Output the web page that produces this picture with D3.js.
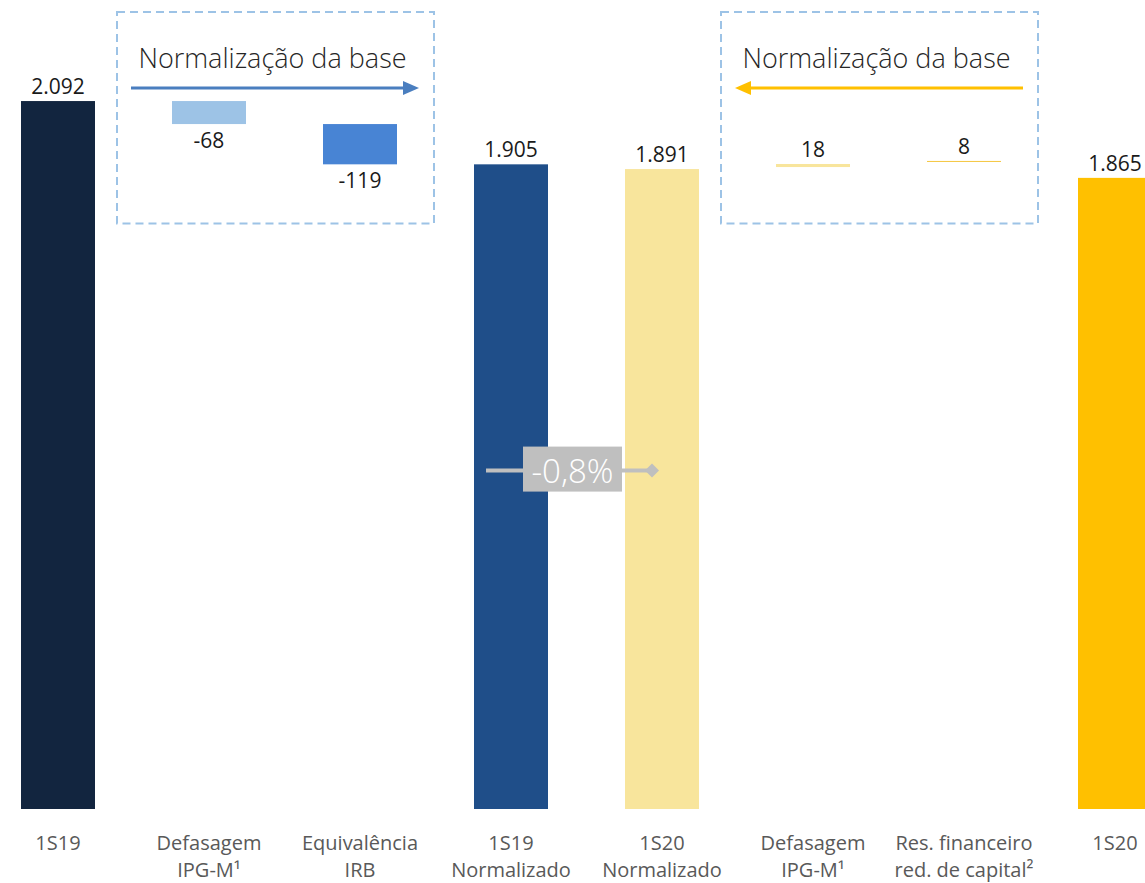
<!DOCTYPE html>
<html>
<head>
<meta charset="utf-8">
<script src="https://cdn.jsdelivr.net/npm/d3@7"></script>
<style>
  body { margin: 0; background: #fff; }
  svg { display: block; font-family: "Open Sans", sans-serif; }
</style>
</head>
<body>
<div id="chart"></div>
<script>
// categorias (linhas do eixo x)
const categories = ["1S19", "Defasagem|IPG-M¹", "Equivalência|IRB", "1S19|Normalizado",
                    "1S20|Normalizado", "Defasagem|IPG-M¹", "Res. financeiro|red. de capital²", "1S20"];
// rótulos de valor
const valueLabels = ["2.092", "-68", "-119", "1.905", "1.891", "18", "8", "1.865"];
// barras: início e fim (flutuantes para os ajustes)
const barLow  = [0, 2024, 1905, 0, 0, 1897, 1912, 0];
const barHigh = [2092, 2092, 2024, 1905, 1891, 1906, 1915, 1865];
const labelBelow = [false, true, true, false, false, false, false, false];
const barColors = ["#12253f", "#9dc3e6", "#4884d4", "#1f4e89", "#f8e59c", "#f8e59c", "#f5c842", "#ffc000"];
const changeLabel = "-0,8%";
const boxTitle = "Normalização da base";

const width = 1145, height = 883;
const svg = d3.select("#chart").append("svg")
    .attr("width", width).attr("height", height);

// escalas
const x = d3.scaleBand()
    .domain(d3.range(categories.length))
    .range([-17.5, 1190.5])
    .paddingInner(0.51)
    .paddingOuter(0.255);

const y = d3.scaleLinear()
    .domain([0, 2200])
    .range([809, 64.5]);

// caixas tracejadas
function drawBox(i0, i1, arrowDir, arrowColor) {
    const x0 = x(i0) - 55, x1 = x(i1) + x.bandwidth() + 37;
    svg.append("rect")
        .attr("x", x0).attr("y", 12)
        .attr("width", x1 - x0).attr("height", 211.5)
        .attr("fill", "none")
        .attr("stroke", "#9dc3e6")
        .attr("stroke-width", 2)
        .attr("stroke-dasharray", "8,5");
    svg.append("text")
        .attr("x", (x0 + x1) / 2 - 3).attr("y", 68)
        .attr("text-anchor", "middle")
        .attr("font-size", 27)
        .attr("font-weight", 300)
        .attr("fill", "#262626")
        .text(boxTitle);
    // seta
    const ax0 = x0 + 14, ax1 = x1 - 15, ay = 88;
    const tip = arrowDir > 0 ? ax1 : ax0;
    const tail = arrowDir > 0 ? ax0 : ax1;
    svg.append("line")
        .attr("x1", tail).attr("x2", tip - arrowDir * 10)
        .attr("y1", ay).attr("y2", ay)
        .attr("stroke", arrowColor).attr("stroke-width", 3);
    svg.append("path")
        .attr("d", `M${tip},${ay} L${tip - arrowDir * 16},${ay - 7} L${tip - arrowDir * 16},${ay + 7} Z`)
        .attr("fill", arrowColor);
}
drawBox(1, 2, 1, "#4a7ebf");
drawBox(5, 6, -1, "#ffc000");

// barras
const idx = d3.range(categories.length);
svg.selectAll(".bar")
    .data(idx)
    .enter()
    .append("rect")
    .attr("class", "bar")
    .attr("x", i => x(i))
    .attr("y", i => y(barHigh[i]))
    .attr("width", x.bandwidth())
    .attr("height", i => y(barLow[i]) - y(barHigh[i]))
    .attr("fill", i => barColors[i]);

// rótulos de valor
svg.selectAll(".val")
    .data(idx)
    .enter()
    .append("text")
    .attr("class", "val")
    .attr("x", i => x(i) + x.bandwidth() / 2)
    .attr("y", i => labelBelow[i] ? y(barLow[i]) + 24 : y(barHigh[i]) - 7)
    .attr("text-anchor", "middle")
    .attr("font-size", 21)
    .attr("fill", "#1a1a1a")
    .text(i => valueLabels[i]);

// rótulos das categorias
const cat = svg.selectAll(".cat")
    .data(idx)
    .enter()
    .append("text")
    .attr("class", "cat")
    .attr("text-anchor", "middle")
    .attr("font-size", 20)
    .attr("fill", "#595959");
cat.each(function(i) {
    const lines = categories[i].split("|");
    d3.select(this).selectAll("tspan")
        .data(lines)
        .enter()
        .append("tspan")
        .attr("x", x(i) + x.bandwidth() / 2)
        .attr("y", (d, k) => 850 + k * 27)
        .text(d => d);
});

// variação -0,8%
const ly = y(1000);
const lx0 = x(3) + 12, lx1 = x(4) + 27;
svg.append("line")
    .attr("x1", lx0).attr("x2", lx1)
    .attr("y1", ly).attr("y2", ly)
    .attr("stroke", "#bfbfbf").attr("stroke-width", 4);
svg.append("path")
    .attr("d", `M${lx1 - 7},${ly} L${lx1},${ly - 7} L${lx1 + 7},${ly} L${lx1},${ly + 7} Z`)
    .attr("fill", "#bfbfbf");
const bx = x(3) + x.bandwidth() + 24.5;
svg.append("rect")
    .attr("x", bx - 49.5).attr("y", ly - 24)
    .attr("width", 99).attr("height", 45)
    .attr("fill", "#bfbfbf");
svg.append("text")
    .attr("x", bx).attr("y", ly + 12)
    .attr("text-anchor", "middle")
    .attr("font-size", 33)
    .attr("font-weight", 300)
    .attr("fill", "#fff")
    .text(changeLabel);
</script>
</body>
</html>
